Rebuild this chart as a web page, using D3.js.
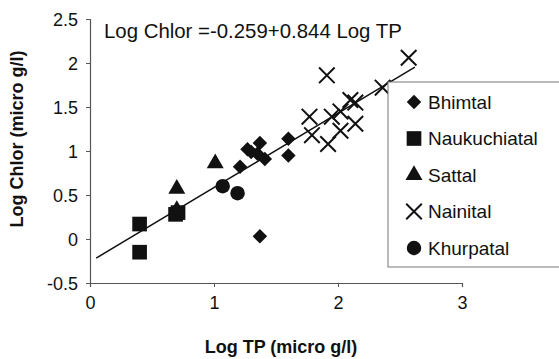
<!DOCTYPE html>
<html>
<head>
<meta charset="utf-8">
<script src="https://cdn.jsdelivr.net/npm/d3@7"></script>
<style>
  body { margin: 0; background: #fff; }
  text { font-family: Arial, "Liberation Sans", sans-serif; fill: #111; }
</style>
</head>
<body>
<svg id="chart" width="559" height="359"></svg>
<script>
// data (log TP, log Chlor)
const bhimtal = [[1.21, 0.82], [1.27, 1.02], [1.30, 0.99], [1.37, 1.09], [1.35, 0.97],
  [1.41, 0.91], [1.60, 1.14], [1.60, 0.95], [1.37, 0.03]];
const naukuchiatal = [[0.40, 0.17], [0.40, -0.15], [0.69, 0.28], [0.71, 0.30]];
const sattal = [[0.70, 0.57], [0.70, 0.33], [1.01, 0.86]];
const nainital = [[1.91, 1.86], [2.57, 2.06], [2.36, 1.72], [2.10, 1.58], [2.14, 1.55],
  [1.77, 1.39], [1.95, 1.39], [2.02, 1.45], [2.14, 1.31], [1.79, 1.18], [2.02, 1.23], [1.92, 1.08]];
const khurpatal = [[1.07, 0.60], [1.19, 0.52]];

const legendNames = ["Bhimtal", "Naukuchiatal", "Sattal", "Nainital", "Khurpatal"];
const xTicks = [0, 1, 2, 3];
const yTicks = [-0.5, 0, 0.5, 1, 1.5, 2, 2.5];
const intercept = -0.259, slope = 0.844;
const fitRange = [0.05, 2.62];

const svg = d3.select("#chart");
const x = d3.scaleLinear().domain([0, 3]).range([90, 462]);
const y = d3.scaleLinear().domain([-0.5, 2.5]).range([283, 19]);

// axes
const xAxis = svg.append("g")
  .attr("transform", "translate(0," + y(-0.5) + ")")
  .call(d3.axisBottom(x).tickValues(xTicks).tickFormat(d3.format("d")).tickSize(4).tickPadding(9));
const yAxis = svg.append("g")
  .attr("transform", "translate(" + x(0) + ",0)")
  .call(d3.axisLeft(y).tickValues(yTicks).tickFormat(d => d).tickSize(4).tickPadding(8));
[xAxis, yAxis].forEach(a => {
  a.select(".domain").attr("stroke", "#555").attr("stroke-width", 1.2);
  a.selectAll(".tick line").attr("stroke", "#555");
  a.selectAll(".tick text").style("font-size", "18px").attr("fill", "#111");
});
yAxis.selectAll(".tick text").attr("dy", "0.34em");

// axis titles
svg.append("text")
  .attr("x", 281).attr("y", 353)
  .attr("text-anchor", "middle")
  .style("font-size", "18px").style("font-weight", "bold")
  .text("Log TP (micro g/l)");
svg.append("text")
  .attr("transform", "translate(23,139) rotate(-90)")
  .attr("text-anchor", "middle")
  .style("font-size", "18px").style("font-weight", "bold")
  .text("Log Chlor (micro g/l)");

// equation
svg.append("text")
  .attr("x", 104).attr("y", 38)
  .style("font-size", "20.4px")
  .text("Log Chlor =-0.259+0.844 Log TP");

// regression line
svg.append("line")
  .attr("x1", x(fitRange[0])).attr("y1", y(intercept + slope * fitRange[0]))
  .attr("x2", x(fitRange[1])).attr("y2", y(intercept + slope * fitRange[1]))
  .attr("stroke", "#111").attr("stroke-width", 1.5);

// markers
const shapes = [
  d3.symbol().type(d3.symbolSquare).size(105),   // rotated -> diamond
  d3.symbol().type(d3.symbolSquare).size(215),
  d3.symbol().type(d3.symbolTriangle).size(125),
  d3.symbol().type(d3.symbolTimes).size(160),
  d3.symbol().type(d3.symbolCircle).size(165)
];
const series = [bhimtal, naukuchiatal, sattal, nainital, khurpatal];

function drawMarker(g, i) {
  const p = g.append("path").attr("d", shapes[i]());
  if (i === 0) p.attr("transform", "rotate(45)");
  if (i === 3) p.attr("fill", "none").attr("stroke", "#111").attr("stroke-width", 2);
  else p.attr("fill", "#111");
}

series.forEach((pts, i) => {
  svg.append("g").selectAll("g")
    .data(pts)
    .enter().append("g")
    .attr("transform", d => "translate(" + x(d[0]) + "," + y(d[1]) + ")")
    .each(function() { drawMarker(d3.select(this), i); });
});

// legend
const legend = svg.append("g");
legend.append("rect")
  .attr("x", 388).attr("y", 82).attr("width", 200).attr("height", 185)
  .attr("fill", "#fff").attr("stroke", "#777").attr("stroke-width", 1);
legendNames.forEach((name, i) => {
  const item = legend.append("g").attr("transform", "translate(414," + (102 + i * 36.5) + ")");
  drawMarker(item, i);
  item.append("text")
    .attr("x", 14).attr("y", 0).attr("dy", "0.35em")
    .style("font-size", "19px")
    .text(name);
});
</script>
</body>
</html>
